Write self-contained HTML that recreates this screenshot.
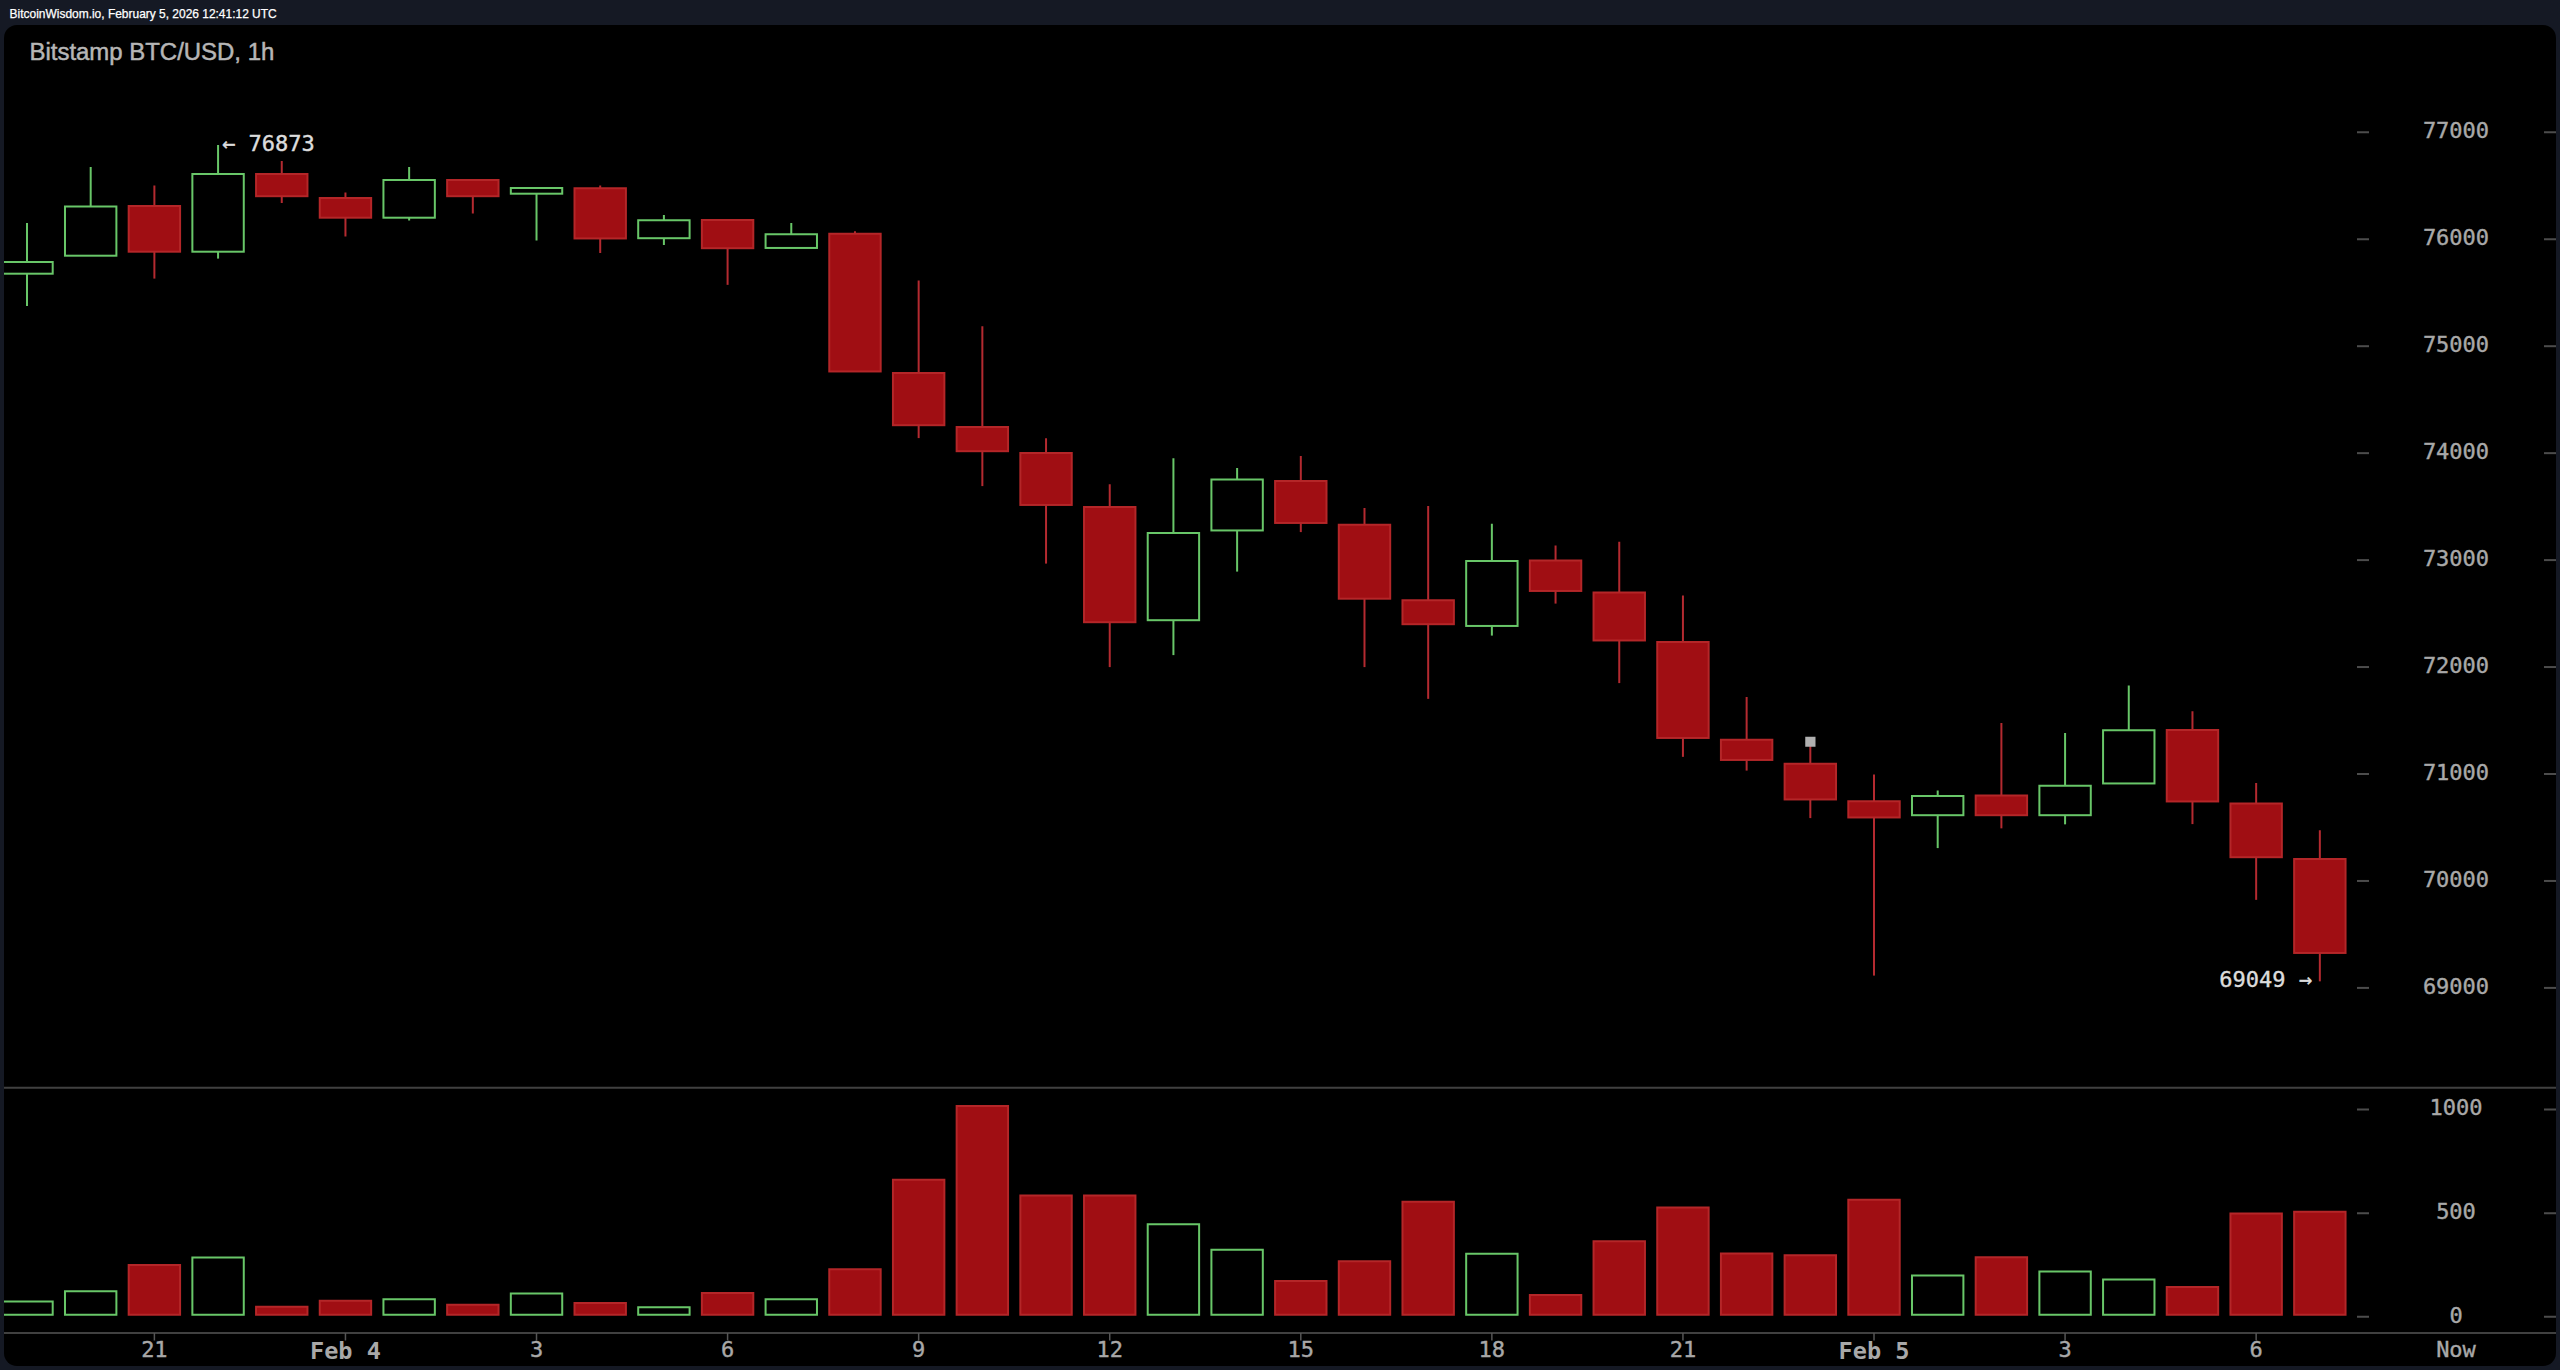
<!DOCTYPE html>
<html lang="en">
<head>
<meta charset="utf-8">
<title>Bitstamp BTC/USD, 1h - BitcoinWisdom.io</title>
<style>
html,body{margin:0;padding:0;}
body{width:2560px;height:1370px;background:#151924;overflow:hidden;position:relative;font-family:"Liberation Sans",sans-serif;}
#stamp{position:absolute;left:9.6px;top:6.6px;font-size:11.96px;-webkit-text-stroke:0.25px #fff;line-height:14px;color:#fff;white-space:nowrap;font-family:"Liberation Sans",sans-serif;}
#chart{position:absolute;left:4px;top:25px;width:2552px;height:1341px;background:#000;border-radius:13px;overflow:hidden;}
#chart svg{position:absolute;left:-4px;top:-25px;}
#title{position:absolute;left:29.5px;top:36.7px;font-size:23.95px;-webkit-text-stroke:0.5px #b6b6b6;line-height:30px;color:#b6b6b6;white-space:nowrap;font-family:"Liberation Sans",sans-serif;}
.m{font-family:"DejaVu Sans Mono","Liberation Mono",monospace;font-size:22px;stroke-width:0.4px;paint-order:stroke;}
.m.g{stroke:#a8a8a8;}
.m.w{stroke:#dcdcdc;}
.b{font-weight:bold;font-size:23.6px;stroke-width:0;}
</style>
</head>
<body>
<div id="stamp">BitcoinWisdom.io, February 5, 2026 12:41:12 UTC</div>
<div id="chart">
<svg width="2560" height="1370" viewBox="0 0 2560 1370" shape-rendering="auto">
<line x1="27" y1="223" x2="27" y2="262" stroke="#68c668" stroke-width="2"/>
<line x1="27" y1="273.7" x2="27" y2="306.1" stroke="#68c668" stroke-width="2"/>
<rect x="1.3" y="262" width="51.4" height="11.7" fill="#000" stroke="#68c668" stroke-width="2"/>
<line x1="90.69" y1="167" x2="90.69" y2="206.5" stroke="#68c668" stroke-width="2"/>
<rect x="64.99" y="206.5" width="51.4" height="49.2" fill="#000" stroke="#68c668" stroke-width="2"/>
<line x1="154.38" y1="185.5" x2="154.38" y2="206" stroke="#b42a30" stroke-width="2"/>
<line x1="154.38" y1="251.7" x2="154.38" y2="278.6" stroke="#b42a30" stroke-width="2"/>
<rect x="128.68" y="206" width="51.4" height="45.7" fill="#a00e13" stroke="#b42628" stroke-width="2"/>
<line x1="218.07" y1="145" x2="218.07" y2="174" stroke="#68c668" stroke-width="2"/>
<line x1="218.07" y1="251.7" x2="218.07" y2="258.6" stroke="#68c668" stroke-width="2"/>
<rect x="192.37" y="174" width="51.4" height="77.7" fill="#000" stroke="#68c668" stroke-width="2"/>
<line x1="281.76" y1="161" x2="281.76" y2="174" stroke="#b42a30" stroke-width="2"/>
<line x1="281.76" y1="196.2" x2="281.76" y2="203.1" stroke="#b42a30" stroke-width="2"/>
<rect x="256.06" y="174" width="51.4" height="22.2" fill="#a00e13" stroke="#b42628" stroke-width="2"/>
<line x1="345.45" y1="192.5" x2="345.45" y2="198" stroke="#b42a30" stroke-width="2"/>
<line x1="345.45" y1="217.7" x2="345.45" y2="236.6" stroke="#b42a30" stroke-width="2"/>
<rect x="319.75" y="198" width="51.4" height="19.7" fill="#a00e13" stroke="#b42628" stroke-width="2"/>
<line x1="409.14" y1="167" x2="409.14" y2="180" stroke="#68c668" stroke-width="2"/>
<line x1="409.14" y1="217.7" x2="409.14" y2="220.6" stroke="#68c668" stroke-width="2"/>
<rect x="383.44" y="180" width="51.4" height="37.7" fill="#000" stroke="#68c668" stroke-width="2"/>
<line x1="472.83" y1="196.2" x2="472.83" y2="213.6" stroke="#b42a30" stroke-width="2"/>
<rect x="447.13" y="180" width="51.4" height="16.2" fill="#a00e13" stroke="#b42628" stroke-width="2"/>
<line x1="536.52" y1="193.7" x2="536.52" y2="240.6" stroke="#68c668" stroke-width="2"/>
<rect x="510.82" y="188" width="51.4" height="5.7" fill="#000" stroke="#68c668" stroke-width="2"/>
<line x1="600.21" y1="185.5" x2="600.21" y2="188.25" stroke="#b42a30" stroke-width="2"/>
<line x1="600.21" y1="238.45" x2="600.21" y2="253.1" stroke="#b42a30" stroke-width="2"/>
<rect x="574.51" y="188.25" width="51.4" height="50.2" fill="#a00e13" stroke="#b42628" stroke-width="2"/>
<line x1="663.9" y1="215" x2="663.9" y2="220.25" stroke="#68c668" stroke-width="2"/>
<line x1="663.9" y1="238.2" x2="663.9" y2="245.1" stroke="#68c668" stroke-width="2"/>
<rect x="638.2" y="220.25" width="51.4" height="17.95" fill="#000" stroke="#68c668" stroke-width="2"/>
<line x1="727.59" y1="248.2" x2="727.59" y2="284.85" stroke="#b42a30" stroke-width="2"/>
<rect x="701.89" y="220" width="51.4" height="28.2" fill="#a00e13" stroke="#b42628" stroke-width="2"/>
<line x1="791.28" y1="223" x2="791.28" y2="234.25" stroke="#68c668" stroke-width="2"/>
<rect x="765.58" y="234.25" width="51.4" height="13.7" fill="#000" stroke="#68c668" stroke-width="2"/>
<line x1="854.97" y1="231.25" x2="854.97" y2="233.75" stroke="#b42a30" stroke-width="2"/>
<rect x="829.27" y="233.75" width="51.4" height="137.7" fill="#a00e13" stroke="#b42628" stroke-width="2"/>
<line x1="918.66" y1="280.5" x2="918.66" y2="373" stroke="#b42a30" stroke-width="2"/>
<line x1="918.66" y1="425.2" x2="918.66" y2="438.1" stroke="#b42a30" stroke-width="2"/>
<rect x="892.96" y="373" width="51.4" height="52.2" fill="#a00e13" stroke="#b42628" stroke-width="2"/>
<line x1="982.35" y1="326.25" x2="982.35" y2="427" stroke="#b42a30" stroke-width="2"/>
<line x1="982.35" y1="451.2" x2="982.35" y2="486.1" stroke="#b42a30" stroke-width="2"/>
<rect x="956.65" y="427" width="51.4" height="24.2" fill="#a00e13" stroke="#b42628" stroke-width="2"/>
<line x1="1046.04" y1="438.25" x2="1046.04" y2="453" stroke="#b42a30" stroke-width="2"/>
<line x1="1046.04" y1="504.95" x2="1046.04" y2="563.6" stroke="#b42a30" stroke-width="2"/>
<rect x="1020.34" y="453" width="51.4" height="51.95" fill="#a00e13" stroke="#b42628" stroke-width="2"/>
<line x1="1109.73" y1="484.25" x2="1109.73" y2="507" stroke="#b42a30" stroke-width="2"/>
<line x1="1109.73" y1="622.2" x2="1109.73" y2="667.1" stroke="#b42a30" stroke-width="2"/>
<rect x="1084.03" y="507" width="51.4" height="115.2" fill="#a00e13" stroke="#b42628" stroke-width="2"/>
<line x1="1173.42" y1="458.25" x2="1173.42" y2="533" stroke="#68c668" stroke-width="2"/>
<line x1="1173.42" y1="620.2" x2="1173.42" y2="655.1" stroke="#68c668" stroke-width="2"/>
<rect x="1147.72" y="533" width="51.4" height="87.2" fill="#000" stroke="#68c668" stroke-width="2"/>
<line x1="1237.11" y1="468" x2="1237.11" y2="479.5" stroke="#68c668" stroke-width="2"/>
<line x1="1237.11" y1="530.45" x2="1237.11" y2="571.6" stroke="#68c668" stroke-width="2"/>
<rect x="1211.41" y="479.5" width="51.4" height="50.95" fill="#000" stroke="#68c668" stroke-width="2"/>
<line x1="1300.8" y1="456" x2="1300.8" y2="481" stroke="#b42a30" stroke-width="2"/>
<line x1="1300.8" y1="522.95" x2="1300.8" y2="532.1" stroke="#b42a30" stroke-width="2"/>
<rect x="1275.1" y="481" width="51.4" height="41.95" fill="#a00e13" stroke="#b42628" stroke-width="2"/>
<line x1="1364.49" y1="508" x2="1364.49" y2="524.75" stroke="#b42a30" stroke-width="2"/>
<line x1="1364.49" y1="598.7" x2="1364.49" y2="667.1" stroke="#b42a30" stroke-width="2"/>
<rect x="1338.79" y="524.75" width="51.4" height="73.95" fill="#a00e13" stroke="#b42628" stroke-width="2"/>
<line x1="1428.18" y1="506" x2="1428.18" y2="600.25" stroke="#b42a30" stroke-width="2"/>
<line x1="1428.18" y1="624.2" x2="1428.18" y2="698.85" stroke="#b42a30" stroke-width="2"/>
<rect x="1402.48" y="600.25" width="51.4" height="23.95" fill="#a00e13" stroke="#b42628" stroke-width="2"/>
<line x1="1491.87" y1="523.75" x2="1491.87" y2="561" stroke="#68c668" stroke-width="2"/>
<line x1="1491.87" y1="625.95" x2="1491.87" y2="635.6" stroke="#68c668" stroke-width="2"/>
<rect x="1466.17" y="561" width="51.4" height="64.95" fill="#000" stroke="#68c668" stroke-width="2"/>
<line x1="1555.56" y1="545.5" x2="1555.56" y2="560.5" stroke="#b42a30" stroke-width="2"/>
<line x1="1555.56" y1="590.95" x2="1555.56" y2="603.6" stroke="#b42a30" stroke-width="2"/>
<rect x="1529.86" y="560.5" width="51.4" height="30.45" fill="#a00e13" stroke="#b42628" stroke-width="2"/>
<line x1="1619.25" y1="541.75" x2="1619.25" y2="592.5" stroke="#b42a30" stroke-width="2"/>
<line x1="1619.25" y1="640.45" x2="1619.25" y2="683.1" stroke="#b42a30" stroke-width="2"/>
<rect x="1593.55" y="592.5" width="51.4" height="47.95" fill="#a00e13" stroke="#b42628" stroke-width="2"/>
<line x1="1682.94" y1="595.5" x2="1682.94" y2="642" stroke="#b42a30" stroke-width="2"/>
<line x1="1682.94" y1="737.95" x2="1682.94" y2="756.85" stroke="#b42a30" stroke-width="2"/>
<rect x="1657.24" y="642" width="51.4" height="95.95" fill="#a00e13" stroke="#b42628" stroke-width="2"/>
<line x1="1746.63" y1="697" x2="1746.63" y2="739.75" stroke="#b42a30" stroke-width="2"/>
<line x1="1746.63" y1="759.95" x2="1746.63" y2="770.6" stroke="#b42a30" stroke-width="2"/>
<rect x="1720.93" y="739.75" width="51.4" height="20.2" fill="#a00e13" stroke="#b42628" stroke-width="2"/>
<line x1="1810.32" y1="746" x2="1810.32" y2="763.75" stroke="#b42a30" stroke-width="2"/>
<line x1="1810.32" y1="799.45" x2="1810.32" y2="818.1" stroke="#b42a30" stroke-width="2"/>
<rect x="1784.62" y="763.75" width="51.4" height="35.7" fill="#a00e13" stroke="#b42628" stroke-width="2"/>
<line x1="1874.01" y1="774.5" x2="1874.01" y2="801.25" stroke="#b42a30" stroke-width="2"/>
<line x1="1874.01" y1="817.45" x2="1874.01" y2="975.6" stroke="#b42a30" stroke-width="2"/>
<rect x="1848.31" y="801.25" width="51.4" height="16.2" fill="#a00e13" stroke="#b42628" stroke-width="2"/>
<line x1="1937.7" y1="790.5" x2="1937.7" y2="796" stroke="#68c668" stroke-width="2"/>
<line x1="1937.7" y1="815.2" x2="1937.7" y2="848.1" stroke="#68c668" stroke-width="2"/>
<rect x="1912" y="796" width="51.4" height="19.2" fill="#000" stroke="#68c668" stroke-width="2"/>
<line x1="2001.39" y1="723" x2="2001.39" y2="795.5" stroke="#b42a30" stroke-width="2"/>
<line x1="2001.39" y1="815.2" x2="2001.39" y2="828.35" stroke="#b42a30" stroke-width="2"/>
<rect x="1975.69" y="795.5" width="51.4" height="19.7" fill="#a00e13" stroke="#b42628" stroke-width="2"/>
<line x1="2065.08" y1="733" x2="2065.08" y2="785.75" stroke="#68c668" stroke-width="2"/>
<line x1="2065.08" y1="815.2" x2="2065.08" y2="824.35" stroke="#68c668" stroke-width="2"/>
<rect x="2039.38" y="785.75" width="51.4" height="29.45" fill="#000" stroke="#68c668" stroke-width="2"/>
<line x1="2128.77" y1="685.5" x2="2128.77" y2="730.25" stroke="#68c668" stroke-width="2"/>
<rect x="2103.07" y="730.25" width="51.4" height="53.2" fill="#000" stroke="#68c668" stroke-width="2"/>
<line x1="2192.46" y1="711.25" x2="2192.46" y2="730" stroke="#b42a30" stroke-width="2"/>
<line x1="2192.46" y1="801.45" x2="2192.46" y2="824.1" stroke="#b42a30" stroke-width="2"/>
<rect x="2166.76" y="730" width="51.4" height="71.45" fill="#a00e13" stroke="#b42628" stroke-width="2"/>
<line x1="2256.15" y1="783" x2="2256.15" y2="803.5" stroke="#b42a30" stroke-width="2"/>
<line x1="2256.15" y1="857.2" x2="2256.15" y2="899.85" stroke="#b42a30" stroke-width="2"/>
<rect x="2230.45" y="803.5" width="51.4" height="53.7" fill="#a00e13" stroke="#b42628" stroke-width="2"/>
<line x1="2319.84" y1="830.25" x2="2319.84" y2="859" stroke="#b42a30" stroke-width="2"/>
<line x1="2319.84" y1="952.95" x2="2319.84" y2="981.35" stroke="#b42a30" stroke-width="2"/>
<rect x="2294.14" y="859" width="51.4" height="93.95" fill="#a00e13" stroke="#b42628" stroke-width="2"/>
<rect x="1.3" y="1301.5" width="51.4" height="13.25" fill="#000" stroke="#68c668" stroke-width="2"/>
<rect x="64.99" y="1291.25" width="51.4" height="23.5" fill="#000" stroke="#68c668" stroke-width="2"/>
<rect x="128.68" y="1265" width="51.4" height="49.75" fill="#a00e13" stroke="#b42628" stroke-width="2"/>
<rect x="192.37" y="1257.5" width="51.4" height="57.25" fill="#000" stroke="#68c668" stroke-width="2"/>
<rect x="256.06" y="1306.75" width="51.4" height="8" fill="#a00e13" stroke="#b42628" stroke-width="2"/>
<rect x="319.75" y="1300.75" width="51.4" height="14" fill="#a00e13" stroke="#b42628" stroke-width="2"/>
<rect x="383.44" y="1299.25" width="51.4" height="15.5" fill="#000" stroke="#68c668" stroke-width="2"/>
<rect x="447.13" y="1304.75" width="51.4" height="10" fill="#a00e13" stroke="#b42628" stroke-width="2"/>
<rect x="510.82" y="1293.5" width="51.4" height="21.25" fill="#000" stroke="#68c668" stroke-width="2"/>
<rect x="574.51" y="1303" width="51.4" height="11.75" fill="#a00e13" stroke="#b42628" stroke-width="2"/>
<rect x="638.2" y="1307.25" width="51.4" height="7.5" fill="#000" stroke="#68c668" stroke-width="2"/>
<rect x="701.89" y="1293" width="51.4" height="21.75" fill="#a00e13" stroke="#b42628" stroke-width="2"/>
<rect x="765.58" y="1299.25" width="51.4" height="15.5" fill="#000" stroke="#68c668" stroke-width="2"/>
<rect x="829.27" y="1269.25" width="51.4" height="45.5" fill="#a00e13" stroke="#b42628" stroke-width="2"/>
<rect x="892.96" y="1179.75" width="51.4" height="135" fill="#a00e13" stroke="#b42628" stroke-width="2"/>
<rect x="956.65" y="1106" width="51.4" height="208.75" fill="#a00e13" stroke="#b42628" stroke-width="2"/>
<rect x="1020.34" y="1195.5" width="51.4" height="119.25" fill="#a00e13" stroke="#b42628" stroke-width="2"/>
<rect x="1084.03" y="1195.5" width="51.4" height="119.25" fill="#a00e13" stroke="#b42628" stroke-width="2"/>
<rect x="1147.72" y="1224.25" width="51.4" height="90.5" fill="#000" stroke="#68c668" stroke-width="2"/>
<rect x="1211.41" y="1249.75" width="51.4" height="65" fill="#000" stroke="#68c668" stroke-width="2"/>
<rect x="1275.1" y="1281" width="51.4" height="33.75" fill="#a00e13" stroke="#b42628" stroke-width="2"/>
<rect x="1338.79" y="1261.25" width="51.4" height="53.5" fill="#a00e13" stroke="#b42628" stroke-width="2"/>
<rect x="1402.48" y="1201.75" width="51.4" height="113" fill="#a00e13" stroke="#b42628" stroke-width="2"/>
<rect x="1466.17" y="1253.75" width="51.4" height="61" fill="#000" stroke="#68c668" stroke-width="2"/>
<rect x="1529.86" y="1295" width="51.4" height="19.75" fill="#a00e13" stroke="#b42628" stroke-width="2"/>
<rect x="1593.55" y="1241.25" width="51.4" height="73.5" fill="#a00e13" stroke="#b42628" stroke-width="2"/>
<rect x="1657.24" y="1207.5" width="51.4" height="107.25" fill="#a00e13" stroke="#b42628" stroke-width="2"/>
<rect x="1720.93" y="1253.5" width="51.4" height="61.25" fill="#a00e13" stroke="#b42628" stroke-width="2"/>
<rect x="1784.62" y="1255.25" width="51.4" height="59.5" fill="#a00e13" stroke="#b42628" stroke-width="2"/>
<rect x="1848.31" y="1199.75" width="51.4" height="115" fill="#a00e13" stroke="#b42628" stroke-width="2"/>
<rect x="1912" y="1275.5" width="51.4" height="39.25" fill="#000" stroke="#68c668" stroke-width="2"/>
<rect x="1975.69" y="1257.25" width="51.4" height="57.5" fill="#a00e13" stroke="#b42628" stroke-width="2"/>
<rect x="2039.38" y="1271.5" width="51.4" height="43.25" fill="#000" stroke="#68c668" stroke-width="2"/>
<rect x="2103.07" y="1279.5" width="51.4" height="35.25" fill="#000" stroke="#68c668" stroke-width="2"/>
<rect x="2166.76" y="1287" width="51.4" height="27.75" fill="#a00e13" stroke="#b42628" stroke-width="2"/>
<rect x="2230.45" y="1213.5" width="51.4" height="101.25" fill="#a00e13" stroke="#b42628" stroke-width="2"/>
<rect x="2294.14" y="1211.75" width="51.4" height="103" fill="#a00e13" stroke="#b42628" stroke-width="2"/>
<rect x="1805.25" y="736.75" width="10.25" height="10" fill="#b0b0b0"/>
<line x1="4" y1="1087.75" x2="2556" y2="1087.75" stroke="#404040" stroke-width="2"/>
<line x1="4" y1="1333" x2="2556" y2="1333" stroke="#404040" stroke-width="2"/>
<line x1="2357" y1="132.3" x2="2369" y2="132.3" stroke="#4c4c4c" stroke-width="2"/>
<line x1="2544" y1="132.3" x2="2556" y2="132.3" stroke="#4c4c4c" stroke-width="2"/>
<text x="2456" y="138.2" text-anchor="middle" class="m g" fill="#a8a8a8">77000</text>
<line x1="2357" y1="239.25" x2="2369" y2="239.25" stroke="#4c4c4c" stroke-width="2"/>
<line x1="2544" y1="239.25" x2="2556" y2="239.25" stroke="#4c4c4c" stroke-width="2"/>
<text x="2456" y="245.15" text-anchor="middle" class="m g" fill="#a8a8a8">76000</text>
<line x1="2357" y1="346.2" x2="2369" y2="346.2" stroke="#4c4c4c" stroke-width="2"/>
<line x1="2544" y1="346.2" x2="2556" y2="346.2" stroke="#4c4c4c" stroke-width="2"/>
<text x="2456" y="352.1" text-anchor="middle" class="m g" fill="#a8a8a8">75000</text>
<line x1="2357" y1="453.15" x2="2369" y2="453.15" stroke="#4c4c4c" stroke-width="2"/>
<line x1="2544" y1="453.15" x2="2556" y2="453.15" stroke="#4c4c4c" stroke-width="2"/>
<text x="2456" y="459.05" text-anchor="middle" class="m g" fill="#a8a8a8">74000</text>
<line x1="2357" y1="560.1" x2="2369" y2="560.1" stroke="#4c4c4c" stroke-width="2"/>
<line x1="2544" y1="560.1" x2="2556" y2="560.1" stroke="#4c4c4c" stroke-width="2"/>
<text x="2456" y="566" text-anchor="middle" class="m g" fill="#a8a8a8">73000</text>
<line x1="2357" y1="667.05" x2="2369" y2="667.05" stroke="#4c4c4c" stroke-width="2"/>
<line x1="2544" y1="667.05" x2="2556" y2="667.05" stroke="#4c4c4c" stroke-width="2"/>
<text x="2456" y="672.95" text-anchor="middle" class="m g" fill="#a8a8a8">72000</text>
<line x1="2357" y1="774" x2="2369" y2="774" stroke="#4c4c4c" stroke-width="2"/>
<line x1="2544" y1="774" x2="2556" y2="774" stroke="#4c4c4c" stroke-width="2"/>
<text x="2456" y="779.9" text-anchor="middle" class="m g" fill="#a8a8a8">71000</text>
<line x1="2357" y1="880.95" x2="2369" y2="880.95" stroke="#4c4c4c" stroke-width="2"/>
<line x1="2544" y1="880.95" x2="2556" y2="880.95" stroke="#4c4c4c" stroke-width="2"/>
<text x="2456" y="886.85" text-anchor="middle" class="m g" fill="#a8a8a8">70000</text>
<line x1="2357" y1="987.9" x2="2369" y2="987.9" stroke="#4c4c4c" stroke-width="2"/>
<line x1="2544" y1="987.9" x2="2556" y2="987.9" stroke="#4c4c4c" stroke-width="2"/>
<text x="2456" y="993.8" text-anchor="middle" class="m g" fill="#a8a8a8">69000</text>
<line x1="2357" y1="1109.5" x2="2369" y2="1109.5" stroke="#4c4c4c" stroke-width="2"/>
<line x1="2544" y1="1109.5" x2="2556" y2="1109.5" stroke="#4c4c4c" stroke-width="2"/>
<text x="2456" y="1115.4" text-anchor="middle" class="m g" fill="#a8a8a8">1000</text>
<line x1="2357" y1="1213.25" x2="2369" y2="1213.25" stroke="#4c4c4c" stroke-width="2"/>
<line x1="2544" y1="1213.25" x2="2556" y2="1213.25" stroke="#4c4c4c" stroke-width="2"/>
<text x="2456" y="1219.15" text-anchor="middle" class="m g" fill="#a8a8a8">500</text>
<line x1="2357" y1="1316.75" x2="2369" y2="1316.75" stroke="#4c4c4c" stroke-width="2"/>
<line x1="2544" y1="1316.75" x2="2556" y2="1316.75" stroke="#4c4c4c" stroke-width="2"/>
<text x="2456" y="1322.65" text-anchor="middle" class="m g" fill="#a8a8a8">0</text>
<line x1="154.38" y1="1333" x2="154.38" y2="1340.5" stroke="#555" stroke-width="1.5"/>
<text x="154.38" y="1357.2" text-anchor="middle" class="m g" fill="#a8a8a8">21</text>
<line x1="345.45" y1="1333" x2="345.45" y2="1340.5" stroke="#555" stroke-width="1.5"/>
<text x="345.45" y="1358.8" text-anchor="middle" class="m g b" fill="#a8a8a8">Feb 4</text>
<line x1="536.52" y1="1333" x2="536.52" y2="1340.5" stroke="#555" stroke-width="1.5"/>
<text x="536.52" y="1357.2" text-anchor="middle" class="m g" fill="#a8a8a8">3</text>
<line x1="727.59" y1="1333" x2="727.59" y2="1340.5" stroke="#555" stroke-width="1.5"/>
<text x="727.59" y="1357.2" text-anchor="middle" class="m g" fill="#a8a8a8">6</text>
<line x1="918.66" y1="1333" x2="918.66" y2="1340.5" stroke="#555" stroke-width="1.5"/>
<text x="918.66" y="1357.2" text-anchor="middle" class="m g" fill="#a8a8a8">9</text>
<line x1="1109.73" y1="1333" x2="1109.73" y2="1340.5" stroke="#555" stroke-width="1.5"/>
<text x="1109.73" y="1357.2" text-anchor="middle" class="m g" fill="#a8a8a8">12</text>
<line x1="1300.8" y1="1333" x2="1300.8" y2="1340.5" stroke="#555" stroke-width="1.5"/>
<text x="1300.8" y="1357.2" text-anchor="middle" class="m g" fill="#a8a8a8">15</text>
<line x1="1491.87" y1="1333" x2="1491.87" y2="1340.5" stroke="#555" stroke-width="1.5"/>
<text x="1491.87" y="1357.2" text-anchor="middle" class="m g" fill="#a8a8a8">18</text>
<line x1="1682.94" y1="1333" x2="1682.94" y2="1340.5" stroke="#555" stroke-width="1.5"/>
<text x="1682.94" y="1357.2" text-anchor="middle" class="m g" fill="#a8a8a8">21</text>
<line x1="1874.01" y1="1333" x2="1874.01" y2="1340.5" stroke="#555" stroke-width="1.5"/>
<text x="1874.01" y="1358.8" text-anchor="middle" class="m g b" fill="#a8a8a8">Feb 5</text>
<line x1="2065.08" y1="1333" x2="2065.08" y2="1340.5" stroke="#555" stroke-width="1.5"/>
<text x="2065.08" y="1357.2" text-anchor="middle" class="m g" fill="#a8a8a8">3</text>
<line x1="2256.15" y1="1333" x2="2256.15" y2="1340.5" stroke="#555" stroke-width="1.5"/>
<text x="2256.15" y="1357.2" text-anchor="middle" class="m g" fill="#a8a8a8">6</text>
<text x="2456" y="1357.2" text-anchor="middle" class="m g" fill="#a8a8a8">Now</text>
<text x="222" y="151" class="m w" fill="#dcdcdc" style="white-space:pre">← 76873</text>
<text x="2312" y="987" text-anchor="end" class="m w" fill="#dcdcdc" style="white-space:pre">69049 →</text>
</svg>
</div>
<div id="title">Bitstamp BTC/USD, 1h</div>
</body>
</html>
